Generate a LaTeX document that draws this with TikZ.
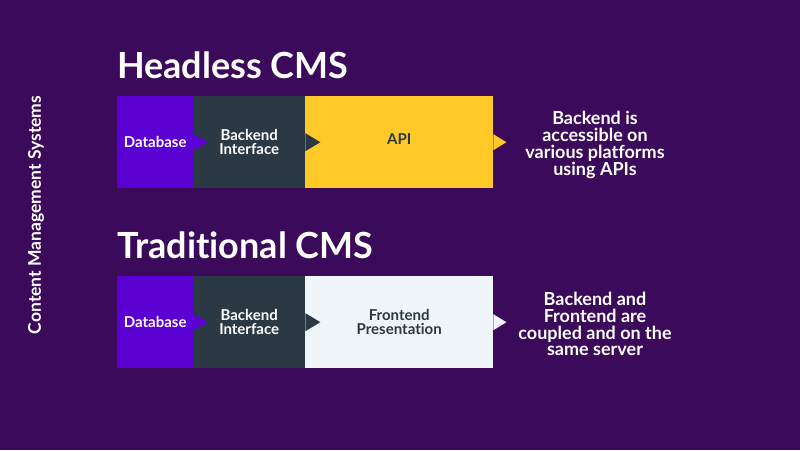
\documentclass[tikz,border=0pt]{standalone}
\usepackage{fontspec}
\setmainfont{Lato}[Ligatures={NoCommon,NoRare}]
\usetikzlibrary{positioning}
\definecolor{bgcol}{HTML}{3B0A5A}
\definecolor{dbcol}{HTML}{5A00D2}
\definecolor{becol}{HTML}{2B3944}
\definecolor{apicol}{HTML}{FFCA28}
\definecolor{fecol}{HTML}{EFF5F9}
\definecolor{txtdark}{HTML}{2B3944}
\tikzset{
  box/.style={rectangle, minimum height=92pt, inner sep=0pt, anchor=north west, font=\bfseries\fontsize{15}{13.5}\selectfont, align=center},
  title/.style={anchor=base west, text=white, inner sep=0pt, font=\bfseries\fontsize{36}{36}\selectfont},
  note/.style={text=white, align=center, inner sep=0pt, font=\bfseries\fontsize{18}{16.8}\selectfont}
}
\begin{document}
\begin{tikzpicture}[x=1pt,y=-1pt]
    \fill[bgcol] (0,0) rectangle (800,450);
    \useasboundingbox (0,0) rectangle (800,450);
    % side label
    \node[rotate=90, text=white, inner sep=0pt, font=\bfseries\fontsize{17.5}{17.5}\selectfont] (side) at (36,215) {Content Management Systems};
    % headless row
    \node[title] (t1) at (117,78) {Headless CMS};
    \node[box, fill=dbcol, text=white, minimum width=76pt] (db1) at (117,96) {Database};
    \node[box, fill=becol, text=white, minimum width=112pt] (be1) at (193,96) {Backend\\Interface};
    \node[box, fill=apicol, text=txtdark, minimum width=188pt, text depth=7pt] (api) at (305,96) {API};
    \fill[dbcol] ([yshift=8pt]db1.east) -- ++(15,8) -- ++(-15,8) -- cycle;
    \fill[becol] ([yshift=9pt]be1.east) -- ++(15,9) -- ++(-15,9) -- cycle;
    \fill[apicol] ([yshift=8pt]api.east) -- ++(13,8) -- ++(-13,8) -- cycle;
    \node[note] (n1) at (595,145) {Backend is\\accessible on\\various platforms\\using APIs};
    % traditional row
    \node[title] (t2) at (117,258) {Traditional CMS};
    \node[box, fill=dbcol, text=white, minimum width=76pt] (db2) at (117,276) {Database};
    \node[box, fill=becol, text=white, minimum width=112pt] (be2) at (193,276) {Backend\\Interface};
    \node[box, fill=fecol, text=txtdark, minimum width=188pt] (fe) at (305,276) {Frontend\\Presentation};
    \fill[dbcol] ([yshift=8pt]db2.east) -- ++(15,8) -- ++(-15,8) -- cycle;
    \fill[becol] ([yshift=9pt]be2.east) -- ++(15,9) -- ++(-15,9) -- cycle;
    \fill[fecol] ([yshift=8pt]fe.east) -- ++(13,8) -- ++(-13,8) -- cycle;
    \node[note] (n2) at (595,324) {Backend and\\Frontend are\\coupled and on the\\same server};
\end{tikzpicture}
\end{document}
